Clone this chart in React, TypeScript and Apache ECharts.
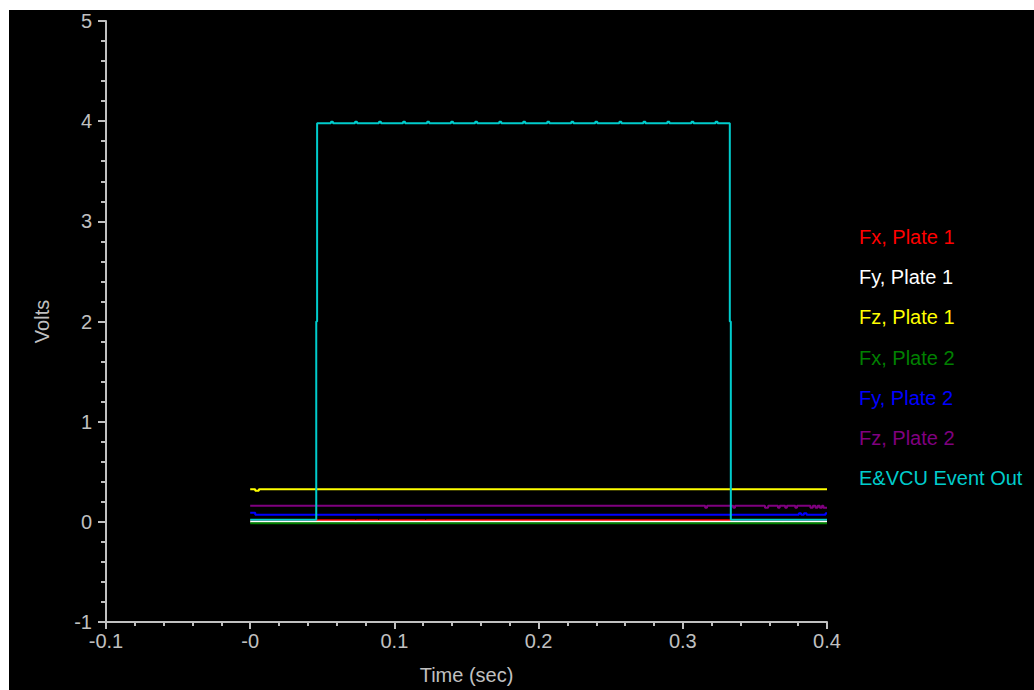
import React, { useEffect, useRef } from "react";
import * as echarts from "echarts";

// ---- Data (change points: each value holds until the next time) ----
const xTickLabels = ["-0.1", "-0", "0.1", "0.2", "0.3", "0.4"];
const yTickLabels = ["-1", "0", "1", "2", "3", "4", "5"];

const seriesNames = [
  "Fx, Plate 1",
  "Fy, Plate 1",
  "Fz, Plate 1",
  "Fx, Plate 2",
  "Fy, Plate 2",
  "Fz, Plate 2",
  "E&VCU Event Out",
];
const seriesColors = ["#ff0000", "#ffffff", "#ffff00", "#008000", "#0000ff", "#800080", "#00cccc"];

const fx1Time = [0, 0.0727, 0.0737, 0.0885, 0.0895, 0.1212, 0.1222, 0.3690, 0.3700, 0.3975, 0.3985, 0.4];
const fx1Volts = [0.015, 0.0, 0.015, 0.0, 0.015, 0.0, 0.015, 0.0, 0.015, 0.0, 0.015, 0.015];

const fy1Time = [0, 0.4];
const fy1Volts = [0.0, 0.0];

const fz1Time = [0, 0.0035, 0.0060, 0.4];
const fz1Volts = [0.325, 0.31, 0.325, 0.325];

const fx2Time = [0, 0.4];
const fx2Volts = [-0.015, -0.015];

const fy2Time = [0, 0.0035, 0.3805, 0.3820, 0.3840, 0.3858, 0.3990, 0.4];
const fy2Volts = [0.09, 0.07, 0.085, 0.07, 0.085, 0.07, 0.085, 0.085];

const fz2Time = [
  0, 0.3155, 0.3168, 0.3350, 0.3362, 0.3570, 0.3592, 0.3660, 0.3672, 0.3710, 0.3722,
  0.3780, 0.3792, 0.3885, 0.3902, 0.3920, 0.3935, 0.3950, 0.3965, 0.3975, 0.4,
];
const fz2Volts = [
  0.16, 0.14, 0.16, 0.14, 0.16, 0.14, 0.16, 0.14, 0.16, 0.14, 0.16,
  0.14, 0.16, 0.14, 0.16, 0.14, 0.16, 0.14, 0.16, 0.14, 0.14,
];

const eventTime = [
  0, 0.0458, 0.0464,
  0.0560, 0.0574, 0.0727, 0.0741, 0.0893, 0.0907, 0.1060, 0.1074, 0.1227, 0.1241,
  0.1393, 0.1407, 0.1560, 0.1574, 0.1727, 0.1741, 0.1893, 0.1907, 0.2060, 0.2074,
  0.2227, 0.2241, 0.2393, 0.2407, 0.2560, 0.2574, 0.2727, 0.2741, 0.2893, 0.2907,
  0.3060, 0.3074, 0.3227, 0.3241,
  0.3326, 0.3333, 0.4,
];
const eventVolts = [
  0.02, 2.0, 3.98,
  3.995, 3.98, 3.995, 3.98, 3.995, 3.98, 3.995, 3.98, 3.995, 3.98,
  3.995, 3.98, 3.995, 3.98, 3.995, 3.98, 3.995, 3.98, 3.995, 3.98,
  3.995, 3.98, 3.995, 3.98, 3.995, 3.98, 3.995, 3.98, 3.995, 3.98,
  3.995, 3.98, 3.995, 3.98,
  2.0, 0.02, 0.02,
];

const seriesTimes = [fx1Time, fy1Time, fz1Time, fx2Time, fy2Time, fz2Time, eventTime];
const seriesVolts = [fx1Volts, fy1Volts, fz1Volts, fx2Volts, fy2Volts, fz2Volts, eventVolts];

const FONT = "'Liberation Sans', Arial, sans-serif";
const AXIS_COLOR = "#c0c0c0";

export default function App() {
  const ref = useRef<HTMLDivElement>(null);

  useEffect(() => {
    if (!ref.current) return;
    const chart = echarts.init(ref.current, undefined, { renderer: "svg" });

    const series = seriesNames.map((name, i) => ({
      name,
      type: "line",
      step: "end",
      showSymbol: false,
      symbol: "none",
      color: seriesColors[i],
      lineStyle: { color: seriesColors[i], width: 2 },
      data: seriesTimes[i].map((t, j) => [t, seriesVolts[i][j]]),
      z: 2 + i,
    }));

    chart.setOption({
      animation: false,
      backgroundColor: "#000000",
      textStyle: { fontFamily: FONT },
      grid: { left: 97, top: 11, right: 207, bottom: 64, containLabel: false },
      legend: {
        orient: "vertical",
        left: 840,
        top: 212,
        icon: "none",
        itemWidth: 0,
        itemHeight: 20,
        itemGap: 20.2,
        selectedMode: false,
        textStyle: { fontSize: 20, fontFamily: FONT, lineHeight: 20 },
        data: seriesNames.map((name, i) => ({
          name,
          textStyle: { color: seriesColors[i], fontSize: 20, fontFamily: FONT },
        })),
      },
      xAxis: {
        type: "value",
        min: -0.1,
        max: 0.4,
        interval: 0.1,
        name: "Time (sec)",
        nameLocation: "middle",
        nameGap: 43,
        nameTextStyle: { color: AXIS_COLOR, fontSize: 20, fontFamily: FONT },
        axisLine: { onZero: false, lineStyle: { color: AXIS_COLOR, width: 2 } },
        axisTick: { show: true, inside: false, length: 7, lineStyle: { color: AXIS_COLOR, width: 2 } },
        minorTick: { show: true, splitNumber: 5, length: 4, lineStyle: { color: AXIS_COLOR, width: 2 } },
        splitLine: { show: false },
        axisLabel: {
          color: AXIS_COLOR,
          fontSize: 20,
          fontFamily: FONT,
          margin: 9,
          showMinLabel: true,
          showMaxLabel: true,
          formatter: (v: number) => {
            const idx = Math.round((v + 0.1) / 0.1);
            return xTickLabels[idx] ?? String(v);
          },
        },
      },
      yAxis: {
        type: "value",
        min: -1,
        max: 5,
        interval: 1,
        name: "Volts",
        nameLocation: "middle",
        nameGap: 54,
        nameRotate: 90,
        nameTextStyle: { color: AXIS_COLOR, fontSize: 20, fontFamily: FONT },
        axisLine: { show: true, onZero: false, lineStyle: { color: AXIS_COLOR, width: 2 } },
        axisTick: { show: true, inside: false, length: 8, lineStyle: { color: AXIS_COLOR, width: 2 } },
        minorTick: { show: true, splitNumber: 5, length: 5, lineStyle: { color: AXIS_COLOR, width: 2 } },
        splitLine: { show: false },
        axisLabel: {
          color: AXIS_COLOR,
          fontSize: 20,
          fontFamily: FONT,
          margin: 14,
          showMinLabel: true,
          showMaxLabel: true,
          formatter: (v: number) => {
            const idx = Math.round(v + 1);
            return yTickLabels[idx] ?? String(v);
          },
        },
      },
      series,
    });

    return () => chart.dispose();
  }, []);

  return (
    <div
      ref={ref}
      style={{
        position: "absolute",
        left: 9,
        top: 10,
        width: 1025,
        height: 680,
        background: "#000000",
        overflow: "hidden",
      }}
    />
  );
}
